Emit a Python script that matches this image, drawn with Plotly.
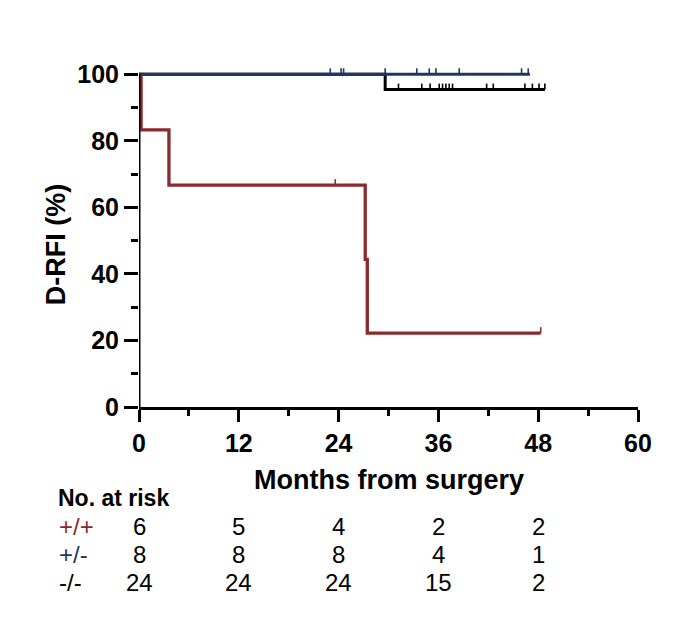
import plotly.graph_objects as go

# ---------------- data ----------------
months_ticks = [0, 12, 24, 36, 48, 60]
risk_times = [0, 12, 24, 36, 48]

groups = ["+/+", "+/-", "-/-"]
colors = ["#8B2A2E", "#1F3664", "#000000"]

# step-curve points (time in months, survival %)
pp_t = [0, 0.25, 3.6, 27.2, 27.45, 48.3]
pp_s = [100, 83.3, 66.7, 44.4, 22.2, 22.2]
pp_cens_t = [23.6, 48.3]
pp_cens_s = [66.7, 22.2]

pm_t = [0, 47.0]
pm_s = [100, 100]
pm_cens_t = [23.0, 24.3, 24.6, 29.6, 33.4, 34.9, 35.7, 38.5, 46.0, 46.8]
pm_cens_s = [100] * len(pm_cens_t)

mm_t = [0, 29.6, 48.8]
mm_s = [100, 95.4, 95.4]
mm_cens_t = [31.2, 34.0, 35.0, 36.1, 36.5, 36.9, 37.3, 37.7, 41.8, 42.6, 46.4, 47.3, 48.1, 48.8]
mm_cens_s = [95.4] * len(mm_cens_t)

at_risk = {
    "+/+": [6, 5, 4, 2, 2],
    "+/-": [8, 8, 8, 4, 1],
    "-/-": [24, 24, 24, 15, 2],
}

# ---------------- figure ----------------
FONT = "Liberation Sans, Arial, Helvetica, sans-serif"
CENS_H = 1.8  # censor tick height in % units

fig = go.Figure()

curves = [
    (mm_t, mm_s, mm_cens_t, mm_cens_s, colors[2], 3),
    (pp_t, pp_s, pp_cens_t, pp_cens_s, colors[0], 3.3),
    (pm_t, pm_s, pm_cens_t, pm_cens_s, colors[1], 3),
]
for t, s, ct, cs, col, w in curves:
    fig.add_trace(go.Scatter(x=t, y=s, mode="lines", line=dict(color=col, width=w, shape="hv"),
                             showlegend=False, hoverinfo="skip"))
    cx, cy = [], []
    for a, b in zip(ct, cs):
        cx += [a, a, None]
        cy += [b, b + CENS_H, None]
    fig.add_trace(go.Scatter(x=cx, y=cy, mode="lines", line=dict(color=col, width=1.6),
                             showlegend=False, hoverinfo="skip"))

# y axis line from 0 to 100 only
fig.add_shape(type="line", xref="x", yref="y", x0=0, x1=0, y0=0, y1=100,
              line=dict(color="black", width=3), layer="above")

ann = []
# y title
ann.append(dict(text="<b>D-RFI (%)</b>", xref="paper", yref="paper", x=-0.166, y=0.468,
                textangle=-90, showarrow=False, font=dict(family=FONT, size=27, color="black"),
                xanchor="center", yanchor="middle"))
# x title
ann.append(dict(text="<b>Months from surgery</b>", xref="paper", yref="paper", x=0.5, y=-0.211,
                showarrow=False, font=dict(family=FONT, size=27, color="black"),
                xanchor="center", yanchor="middle"))
# No. at risk
ann.append(dict(text="<b>No. at risk</b>", xref="paper", yref="paper", x=-0.166, y=-0.263,
                showarrow=False, font=dict(family=FONT, size=23, color="black"),
                xanchor="left", yanchor="middle"))
row_y = [-0.3465, -0.427, -0.508]
for g, col, ry in zip(groups, colors, row_y):
    ann.append(dict(text=g, xref="paper", yref="paper", x=-0.165, y=ry, showarrow=False,
                    font=dict(family=FONT, size=24, color=col), xanchor="left", yanchor="middle"))
    for tt, n in zip(risk_times, at_risk[g]):
        ann.append(dict(text=str(n), xref="x", yref="paper", x=tt, y=ry, showarrow=False,
                        font=dict(family=FONT, size=24, color="black"),
                        xanchor="center", yanchor="middle"))

fig.update_layout(
    width=680, height=635,
    margin=dict(l=131, r=50, t=53, b=236),
    paper_bgcolor="white", plot_bgcolor="white",
    font=dict(family=FONT, color="black"),
    annotations=ann,
    xaxis=dict(range=[0, 60], tickvals=months_ticks, showgrid=False, zeroline=False,
               showline=True, linecolor="black", linewidth=3,
               ticks="outside", ticklen=12, tickwidth=3, tickcolor="black",
               tickfont=dict(family=FONT, size=25, color="black", weight="bold"),
               minor=dict(dtick=6, tick0=0, ticks="outside", ticklen=6, tickwidth=3, tickcolor="black"),
               fixedrange=True),
    yaxis=dict(range=[0, 104], tick0=0, dtick=20, showgrid=False, zeroline=False,
               showline=False,
               ticks="outside", ticklen=14, tickwidth=3, tickcolor="black",
               tickfont=dict(family=FONT, size=25, color="black", weight="bold"),
               minor=dict(dtick=10, tick0=0, ticks="outside", ticklen=7, tickwidth=3, tickcolor="black"),
               fixedrange=True),
)

fig.write_html("out.html")
